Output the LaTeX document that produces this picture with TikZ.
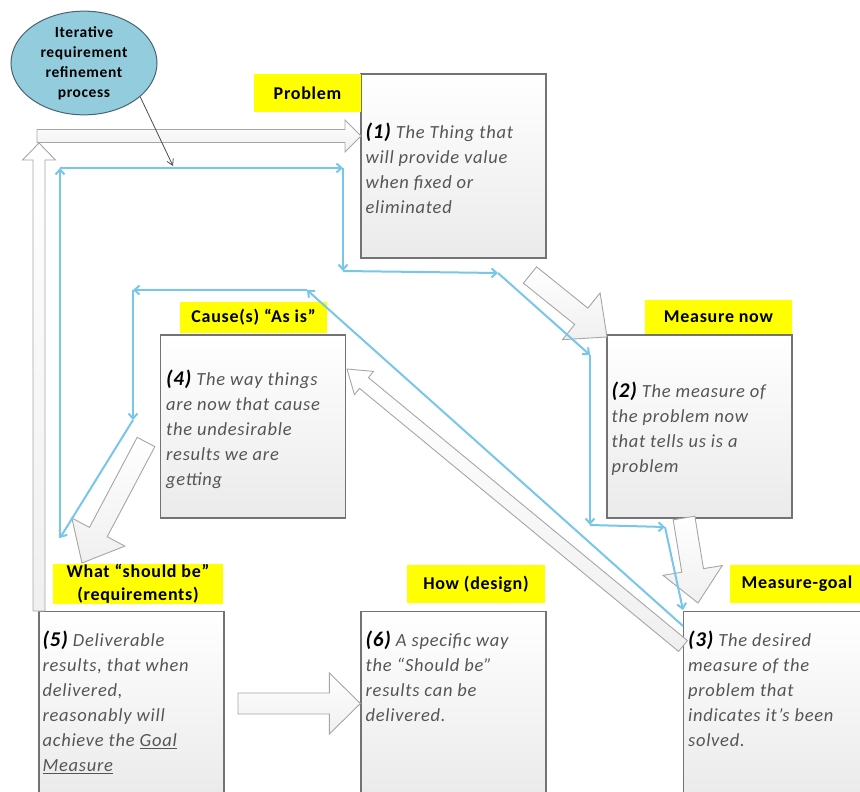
\documentclass[tikz,border=0pt]{standalone}
\usepackage{fontspec}
\setmainfont{Carlito}[LetterSpace=4.0]
\usetikzlibrary{calc,arrows.meta,shapes.geometric}

\definecolor{loopblue}{RGB}{120,198,234}
\definecolor{tagyellow}{RGB}{255,255,0}
\definecolor{bubblefill}{RGB}{147,205,221}
\definecolor{bubbleline}{RGB}{70,100,115}
\definecolor{boxline}{RGB}{115,115,115}
\definecolor{note}{RGB}{85,85,85}

\newcommand{\stepno}[1]{{\fontsize{21}{25}\selectfont\bfseries\color{black}(#1)}}
\newcommand{\blockarrow}[5]{%
  \draw[fatarrow] let \p1=(#1), \p2=(#2), \n1={atan2(\y2-\y1,\x2-\x1)}, \n2={veclen(\x2-\x1,\y2-\y1)} in
    [shift={(\p1)}, rotate=\n1]
    (0,-#3) -- ({\n2-#5},-#3) -- ({\n2-#5},-#4) -- (\n2,0) -- ({\n2-#5},#4) -- ({\n2-#5},#3) -- (0,#3) -- cycle;}

\begin{document}
\begin{tikzpicture}[x=1pt, y=-1pt,
    card/.style={draw=boxline, line width=1.2pt, top color=white, middle color=black!2, bottom color=black!8, minimum width=185pt, minimum height=184pt, inner sep=0pt},
    tagbox/.style={fill=tagyellow, inner sep=0pt, align=center, font=\fontsize{18}{23}\selectfont\bfseries},
    boxtext/.style={anchor=north west, inner sep=0pt, align=left, text=note, font=\fontsize{18.5}{25}\selectfont\itshape},
    fatarrow/.style={draw=gray!70, line width=0.9pt, top color=white, bottom color=black!6},
    cycleline/.style={draw=loopblue, line width=2pt, -{Straight Barb[length=5pt,width=9pt]}},
    pointer/.style={draw=black!70, line width=0.8pt, -{Straight Barb[length=6pt,width=7pt]}},
    bubble/.style={ellipse, draw=bubbleline, line width=1pt, fill=bubblefill, minimum width=146pt, minimum height=100pt, inner sep=0pt, align=center, font=\fontsize{15.5}{20}\selectfont\bfseries}]
    \useasboundingbox (0,0) rectangle (860,792);
    \clip (0,0) rectangle (860,792);

    \node[card] (b1) at (453.5,166) {};
    \node[card, minimum height=183pt] (b2) at (699.5,426.5) {};
    \node[card, minimum height=183pt] (b4) at (253,426.5) {};
    \node[card] (b5) at (131.5,703.5) {};
    \node[card] (b6) at (453.5,703.5) {};
    \node[card] (b3) at (776,703.5) {};

    \node[tagbox, minimum width=107pt, minimum height=38pt] (lab1) at (307.5,93) {Problem};
    \node[tagbox, minimum width=147pt, minimum height=34pt] (lab2) at (718.5,317) {Measure now};
    \node[tagbox, minimum width=134pt, minimum height=38pt] (lab3) at (797,584) {Measure-goal};
    \node[tagbox, minimum width=147pt, minimum height=31pt] (lab4) at (253.5,317.5) {Cause(s) “As is”};
    \node[tagbox, minimum width=170pt, minimum height=40pt] (lab5) at (138,584) {What “should be”\\(requirements)};
    \node[tagbox, minimum width=138pt, minimum height=38pt] (lab6) at (476,584) {How (design)};

    \node[boxtext] (t1) at ($(b1.north west)+(5,49)$) {\stepno{1} The Thing that\\will provide value\\when fixed or\\eliminated};
    \node[boxtext] (t2) at ($(b2.north west)+(5,47)$) {\stepno{2} The measure of\\the problem now\\that tells us is a\\problem};
    \node[boxtext] (t3) at ($(b3.north west)+(5,20)$) {\stepno{3} The desired\\measure of the\\problem that\\indicates it’s been\\solved.};
    \node[boxtext] (t4) at ($(b4.north west)+(6,35)$) {\stepno{4} The way things\\are now that cause\\the undesirable\\results we are\\getting};
    \node[boxtext] (t5) at ($(b5.north west)+(4,20)$) {\stepno{5} Deliverable\\results, that when\\delivered,\\reasonably will\\achieve the \underline{Goal}\\\underline{Measure}};
    \node[boxtext] (t6) at ($(b6.north west)+(5,20)$) {\stepno{6} A specific way\\the “Should be”\\results can be\\delivered.};

    \node[bubble] (iter) at (84,63) {Iterative\\requirement\\refinement\\process};

    \coordinate (topA) at (37,136);   \coordinate (topB) at (361,136);
    \coordinate (upA) at (39,611);    \coordinate (upB) at (39,143);
    \coordinate (fa1) at (530,275);   \coordinate (fa2) at (607,337);
    \coordinate (fb1) at (684,518);   \coordinate (fb2) at (698,603);
    \coordinate (fc1) at (683,646);   \coordinate (fc2) at (347,369);
    \coordinate (fd1) at (146,442);   \coordinate (fd2) at (82,563);
    \coordinate (fe1) at (238,703.5);

    \blockarrow{topA}{topB}{6.5}{16}{16}
    \blockarrow{upA}{upB}{6}{16.5}{17}
    \blockarrow{fa1}{fa2}{10.5}{30}{33}
    \blockarrow{fb1}{fb2}{11}{30}{33}
    \blockarrow{fc1}{fc2}{7}{15}{22}
    \blockarrow{fd1}{fd2}{10}{30}{35}
    \blockarrow{fe1}{b6.west}{10.5}{30.5}{31}

    \coordinate (l1) at (60,168);  \coordinate (l2) at (343,168);
    \coordinate (l3) at (343,271); \coordinate (l4) at (498,273);
    \coordinate (l5) at (590,355); \coordinate (l6) at (590,525);
    \coordinate (l7) at (665,527); \coordinate (l8) at (683,610);
    \coordinate (l9) at (683,626); \coordinate (l10) at (307,290);
    \coordinate (l11) at (133,290); \coordinate (l12) at (133,420);
    \coordinate (l13) at (60,538);

    \foreach \a/\b in {l1/l2,l2/l3,l3/l4,l4/l5,l5/l6,l6/l7,l7/l8,l9/l10,l10/l11,l11/l12,l12/l13,l13/l1}
        \draw[cycleline] (\a) -- (\b);

    \coordinate (hit) at (173,166);
    \draw[pointer] (iter.-31) -- (hit);
\end{tikzpicture}
\end{document}
